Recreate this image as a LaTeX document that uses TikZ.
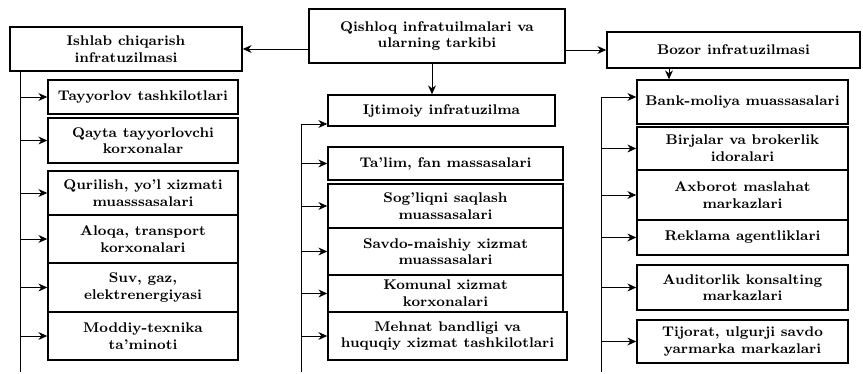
\documentclass[tikz,border=0pt]{standalone}
\usepackage{tikz}
\usetikzlibrary{calc}
\usetikzlibrary{arrows.meta}
\tikzset{
 blok/.style={draw, line width=.9pt, align=center, inner sep=1pt,
   font=\footnotesize\bfseries},
 chiziq/.style={black, line width=.5pt, -{Stealth[length=5pt,width=4.5pt]}}
}

\begin{document}
\begin{tikzpicture} [x=.02cm, y=-.02cm]
\useasboundingbox (0,0) rectangle (863,374);
% asosiy bloklar
\node[blok, minimum width=256*.02cm, minimum height=54*.02cm] (qish) at (437,36)
 {Qishloq infratuilmalari va\\ularning tarkibi};
\node[blok, minimum width=232*.02cm, minimum height=44*.02cm] (ishlab) at (126,49)
 {Ishlab chiqarish\\infratuzilmasi};
\node[blok, minimum width=227*.02cm, minimum height=31*.02cm] (ijt) at (441.5,110.5)
 {Ijtimoiy infratuzilma};
\node[blok, minimum width=253*.02cm, minimum height=36*.02cm] (bozor) at (733.5,50)
 {Bozor infratuzilmasi};
% chap ustun
\foreach \n/\y/\h/\t in {
 tay/97/34/{Tayyorlov tashkilotlari},
 qayta/140.5/45/{Qayta tayyorlovchi\\korxonalar},
 qur/193/44/{Qurilish, yo'l xizmati\\muasssasalari},
 aloqa/239/48/{Aloqa, transport\\korxonalari},
 suv/287.5/49/{Suv, gaz,\\elektrenergiyasi},
 moddiy/336/48/{Moddiy-texnika\\ta'minoti}} {
 \node[blok, minimum width=190*.02cm, minimum height=\h*.02cm] (\n) at (143,\y) {\t};
}
% o'rta ustun
\foreach \n/\y/\h/\t in {
 talim/163.5/33/{Ta'lim, fan massasalari},
 sog/206/44/{Sog'liqni saqlash\\muassasalari},
 savdo/251.5/47/{Savdo-maishiy xizmat\\muassasalari},
 komunal/293.5/37/{Komunal xizmat\\korxonalari}} {
 \node[blok, minimum width=235*.02cm, minimum height=\h*.02cm] (\n) at (445.5,\y) {\t};
}
\node[blok, minimum width=239*.02cm, minimum height=48*.02cm] (mehnat) at (447.5,336)
 {Mehnat bandligi va\\huquqiy xizmat tashkilotlari};
% o'ng ustun
\foreach \n/\y/\h/\t in {
 bank/102/44/{Bank-moliya muassasalari},
 birja/148.5/43/{Birjalar va brokerlik\\idoralari},
 axborot/195/50/{Axborot maslahat\\markazlari},
 reklama/237.5/35/{Reklama agentliklari},
 audit/287.5/45/{Auditorlik konsalting\\markazlari},
 tijorat/341.5/43/{Tijorat, ulgurji savdo\\yarmarka markazlari}} {
 \node[blok, minimum width=211*.02cm, minimum height=\h*.02cm] (\n) at (742.5,\y) {\t};
}
% bog'lanishlar
\draw[chiziq] (qish.west |- ishlab.east) -- (ishlab.east);
\draw[chiziq] (qish.east |- bozor.west) -- (bozor.west);
\draw[chiziq] (qish.south -| 432,0) -- (ijt.north -| 432,0);
\draw[chiziq] (bozor.south -| 669,0) -- (bank.north -| 669,0);
\coordinate (chap) at (20,71);
\coordinate (orta) at (301,124);
\coordinate (ong) at (601,97);
\draw[line width=.5pt] (chap) -- (20,372);
\draw[line width=.5pt] (orta) -- (301,372);
\draw[line width=.5pt] (ong) -- (601,372);
\draw[chiziq] (orta) -- (orta -| ijt.west);
\draw[chiziq] (ong) -- (ong -| bank.west);
\foreach \n in {tay,qayta,qur,aloqa,suv,moddiy}
 \draw[chiziq] (chap |- \n.west) -- (\n.west);
\foreach \n in {talim,sog,savdo,komunal,mehnat}
 \draw[chiziq] (orta |- \n.west) -- (\n.west);
\foreach \n in {birja,axborot,reklama,audit,tijorat}
 \draw[chiziq] (ong |- \n.west) -- (\n.west);
\end{tikzpicture}
\end{document}
